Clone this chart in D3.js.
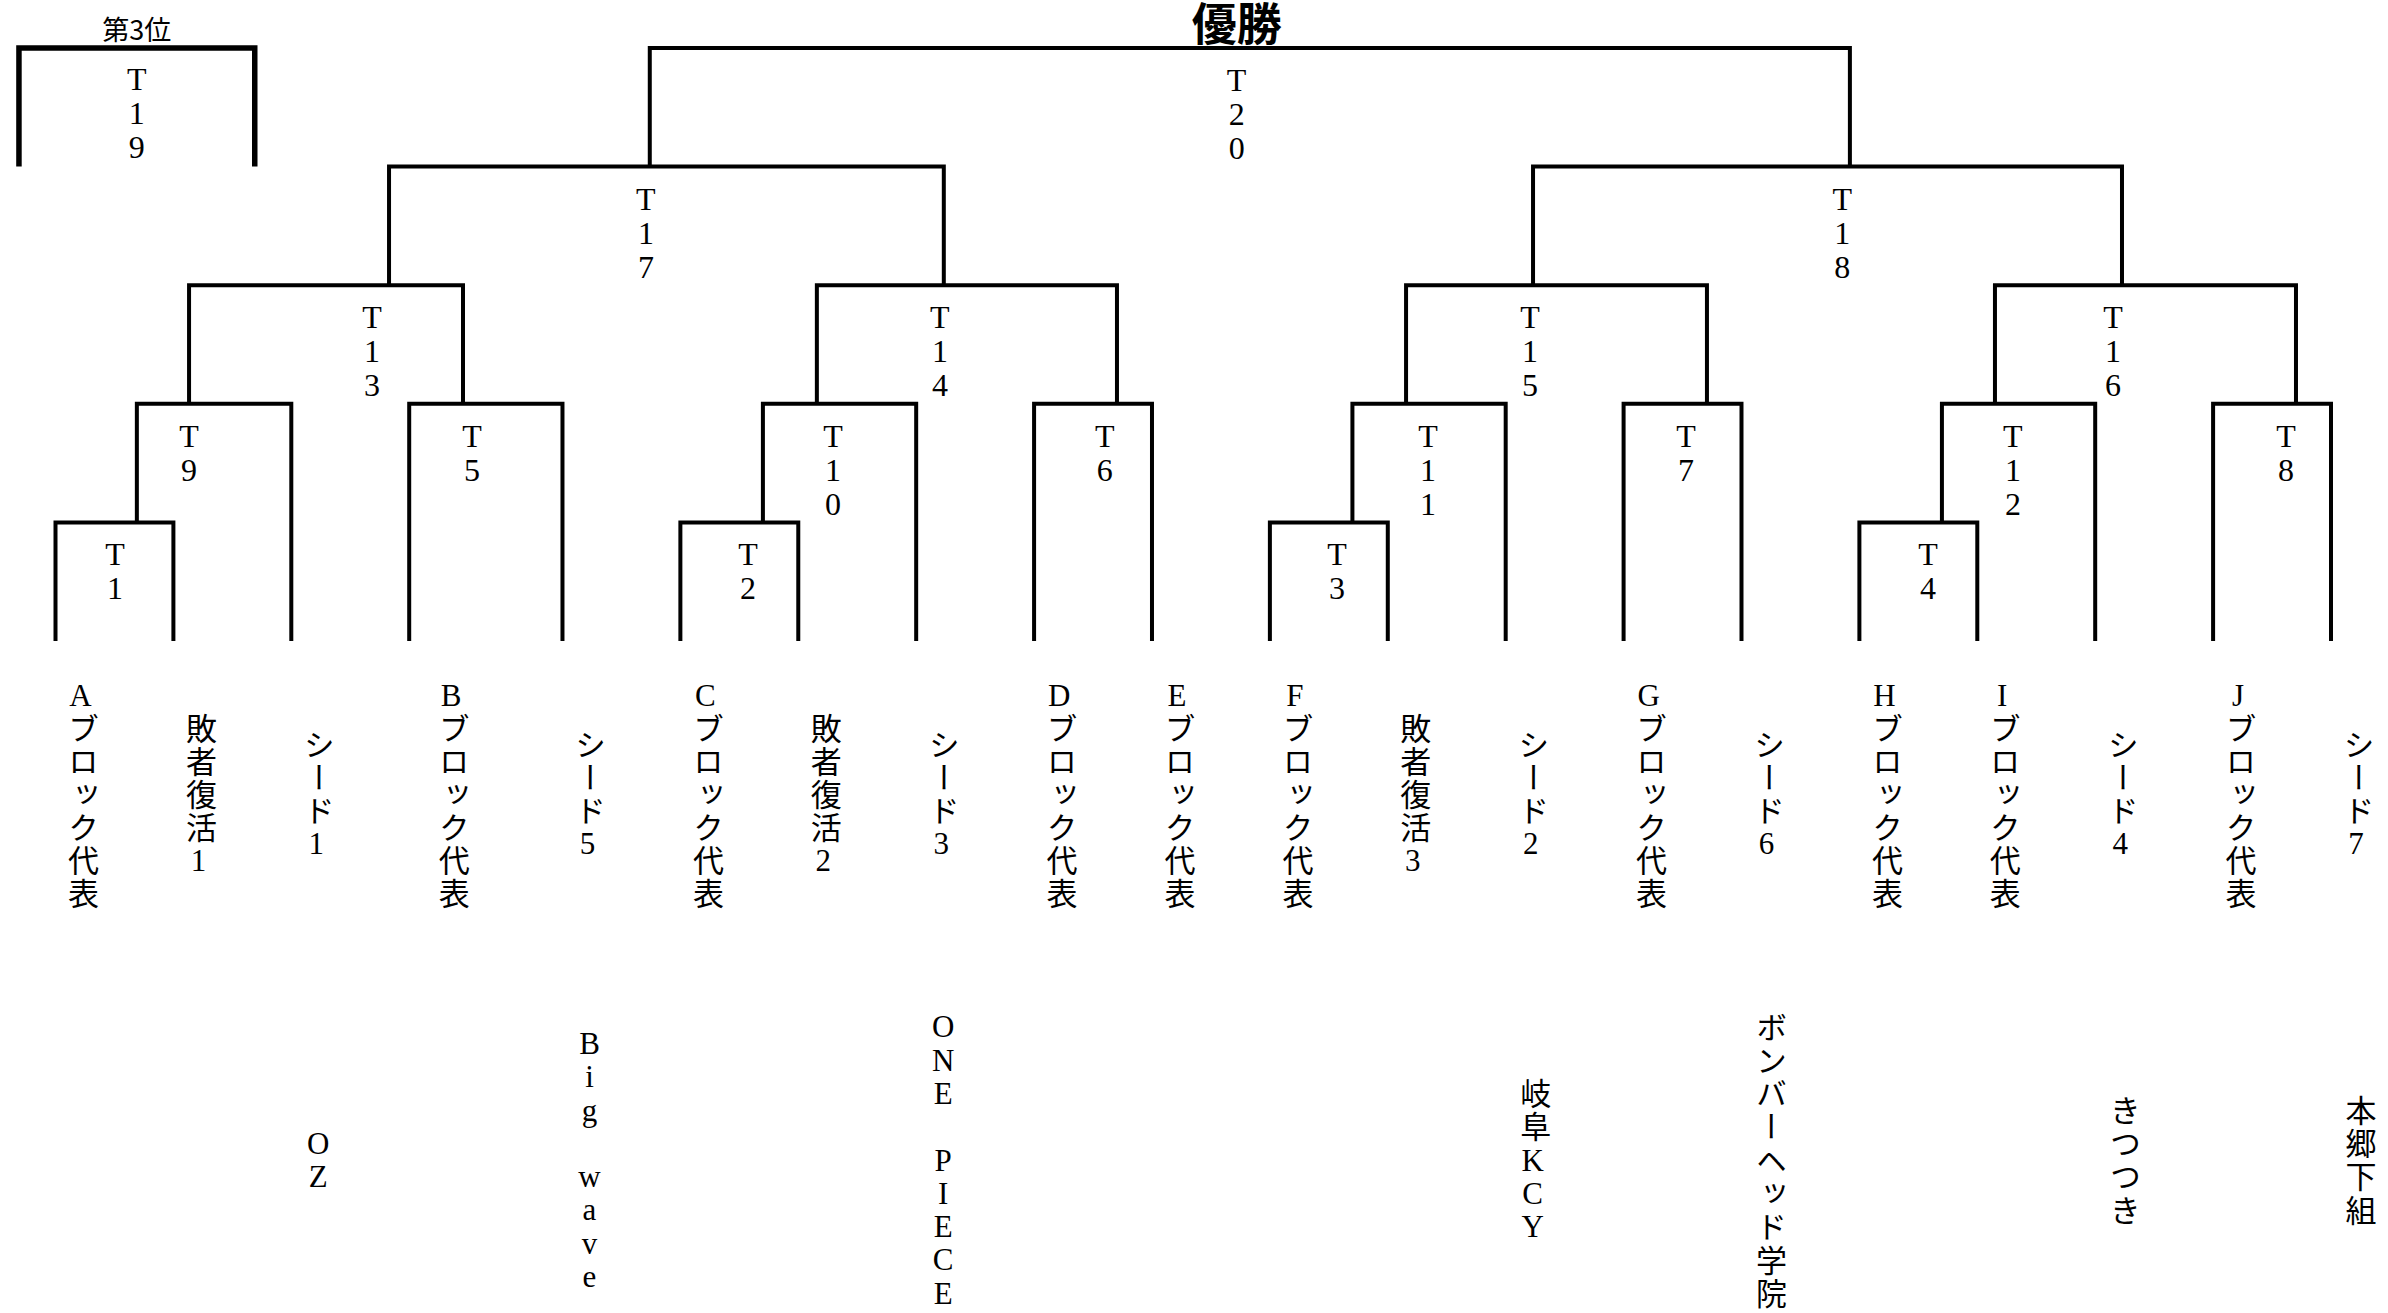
<!DOCTYPE html>
<html>
<head>
<meta charset="utf-8">
<script src="https://cdn.jsdelivr.net/npm/d3@7"></script>
<style>
html, body { margin: 0; padding: 0; background: #fff; }
#container { width: 2388px; height: 1313px; }
</style>
</head>
<body>
<div id="container"></div>
<script>
// entrants, left to right
const leafLabels = [
    "Aブロック代表", "敗者復活1", "シード1", "Bブロック代表", "シード5",
    "Cブロック代表", "敗者復活2", "シード3", "Dブロック代表", "Eブロック代表",
    "Fブロック代表", "敗者復活3", "シード2", "Gブロック代表", "シード6",
    "Hブロック代表", "Iブロック代表", "シード4", "Jブロック代表", "シード7"
];
const teamNames = [
    "", "", "OZ", "", "Big wave",
    "", "", "ONE PIECE", "", "",
    "", "", "岐阜KCY", "", "ボンバーヘッド学院",
    "", "", "きつつき", "", "本郷下組"
];

// matches, children before parents
const matchNames = ["T1", "T2", "T3", "T4", "T9", "T5", "T10", "T6", "T11", "T7", "T12", "T8",
    "T13", "T14", "T15", "T16", "T17", "T18", "T20"];
const matchRound = [4, 4, 4, 4, 3, 3, 3, 3, 3, 3, 3, 3, 2, 2, 2, 2, 1, 1, 0];
const matchSides = [
    ["Aブロック代表", "敗者復活1"], ["Cブロック代表", "敗者復活2"],
    ["Fブロック代表", "敗者復活3"], ["Hブロック代表", "Iブロック代表"],
    ["T1", "シード1"], ["Bブロック代表", "シード5"], ["T2", "シード3"], ["Dブロック代表", "Eブロック代表"],
    ["T3", "シード2"], ["Gブロック代表", "シード6"], ["T4", "シード4"], ["Jブロック代表", "シード7"],
    ["T9", "T5"], ["T10", "T6"], ["T11", "T7"], ["T12", "T8"],
    ["T13", "T14"], ["T15", "T16"], ["T17", "T18"]
];
const thirdPlace = "T19";
const finalTitle = "優勝";
const thirdTitle = "第3位";

// layout: where the upward line leaves each bar, and where the match name sits (fraction of bar)
const stemFrac = {T1: .69, T2: .70, T3: .70, T4: .70, T9: .338, T5: .351, T10: .352, T6: .703,
    T11: .35, T7: .707, T12: .346, T8: .703, T13: .73, T14: .423, T15: .422, T16: .422,
    T17: .47, T18: .538, T20: .5};
const labelFrac = {T1: .505, T2: .573, T3: .569, T4: .582, T9: .338, T5: .41, T10: .457, T6: .60,
    T11: .493, T7: .529, T12: .463, T8: .618, T13: .668, T14: .41, T15: .412, T16: .392,
    T17: .463, T18: .525, T20: .489};
const labelNudge = {"Bブロック代表": 17};

const width = 2388, height = 1313;
const font = "'Liberation Serif', 'Noto Sans CJK JP', serif";

const slot = i => i + (i >= 4 ? 0.3 : 0);   // a little extra room after the B block
const x = d3.scaleLinear().domain([0, slot(19)]).range([55.5, 2331]);
const y = d3.scaleLinear().domain([0, 5]).range([48, 641]);

const svg = d3.create("svg")
    .attr("width", width)
    .attr("height", height)
    .attr("viewBox", `0 0 ${width} ${height}`)
    .attr("xmlns", "http://www.w3.org/2000/svg");

svg.append("rect").attr("width", width).attr("height", height).attr("fill", "#fff");

// one character per text node, stacked downward, centred on cy
function vcol(g, str, cx, cy, pitch, size) {
    const chars = Array.from(str);
    const n = chars.length;
    g.append("g").selectAll("text")
        .data(chars)
        .join("text")
        .attr("x", cx)
        .attr("y", (d, k) => cy + (k - (n - 1) / 2) * pitch)
        .attr("text-anchor", "middle")
        .attr("font-family", font)
        .attr("font-size", size)
        .style("writing-mode", "vertical-rl")
        .style("text-orientation", "upright")
        .text(d => d);
}

const pos = {};
leafLabels.forEach((lab, i) => { pos[lab] = {x: x(slot(i)), y: y(5)}; });

const lines = svg.append("g")
    .attr("fill", "none")
    .attr("stroke", "#000")
    .attr("stroke-width", 4)
    .attr("stroke-linejoin", "miter");
const labels = svg.append("g").attr("fill", "#000");

matchNames.forEach((name, i) => {
    const [a, b] = matchSides[i].map(k => pos[k]);
    const barY = y(matchRound[i]);
    lines.append("path")
        .attr("d", `M${a.x},${a.y}V${barY}H${b.x}V${b.y}`);
    pos[name] = {x: a.x + stemFrac[name] * (b.x - a.x), y: barY, lx: a.x + labelFrac[name] * (b.x - a.x)};
    const chars = Array.from(name);
    vcol(labels, name, pos[name].lx, barY + 32 + (chars.length - 1) / 2 * 34, 34, 32);
});

// final title
svg.append("text")
    .attr("x", pos["T20"].lx)
    .attr("y", 41)
    .attr("text-anchor", "middle")
    .attr("font-family", "'Noto Sans CJK JP', sans-serif")
    .attr("font-weight", "bold")
    .attr("font-size", 45)
    .text(finalTitle);

// third place box
const tx0 = x(-0.31), tx1 = x(1.69);
svg.append("path")
    .attr("d", `M${tx0},${y(1)}V${y(0)}H${tx1}V${y(1)}`)
    .attr("fill", "none")
    .attr("stroke", "#000")
    .attr("stroke-width", 5.5);
vcol(labels, thirdPlace, (tx0 + tx1) / 2, y(0) + 31 + 34, 34, 32);
svg.append("text")
    .attr("x", (tx0 + tx1) / 2)
    .attr("y", 40)
    .attr("text-anchor", "middle")
    .attr("font-family", "'Noto Sans CJK JP', sans-serif")
    .attr("font-size", 27)
    .text(thirdTitle);

// entrant labels and team names
leafLabels.forEach((lab, i) => {
    const lx = x(slot(i));
    vcol(labels, lab, lx + 25 + (labelNudge[lab] || 0), 794, 33, 31);
    if (teamNames[i]) vcol(labels, teamNames[i], lx + 27, 1160, 33.3, 31);
});

document.getElementById("container").append(svg.node());
</script>
</body>
</html>
